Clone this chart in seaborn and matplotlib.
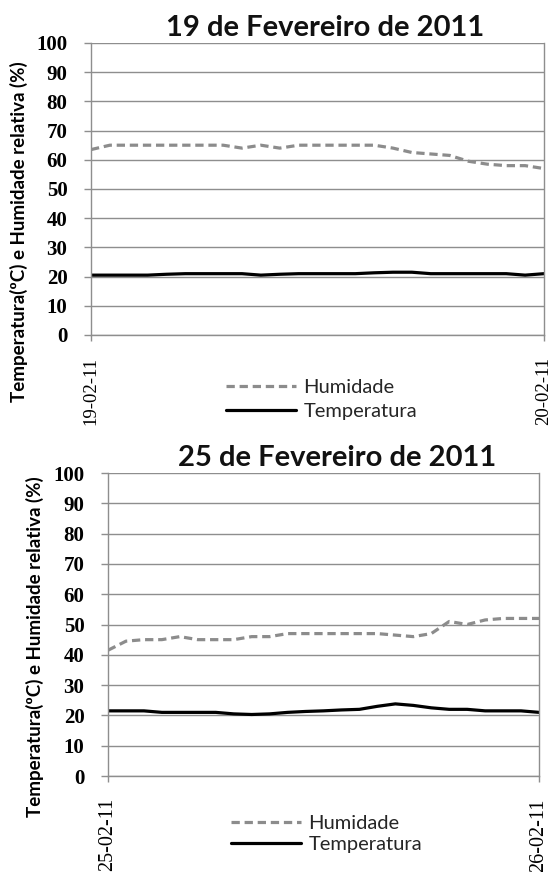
import numpy as np
import pandas as pd
import matplotlib
matplotlib.use("Agg")
import matplotlib.pyplot as plt
import seaborn as sns

# Hourly readings, 0h .. 24h
horas = list(range(25))

hum_19 = [63.5, 65, 65, 65, 65, 65, 65, 65, 64, 65, 64, 65, 65, 65, 65, 65,
          64, 62.5, 62, 61.5, 59.5, 58.5, 58, 58, 57]
temp_19 = [20.5, 20.5, 20.5, 20.5, 20.8, 21, 21, 21, 21, 20.5, 20.8, 21, 21,
           21, 21, 21.3, 21.5, 21.5, 21, 21, 21, 21, 21, 20.5, 21]

hum_25 = [41.5, 44.5, 45, 45, 46, 45, 45, 45, 46, 46, 47, 47, 47, 47, 47, 47,
          46.5, 46, 47, 51, 50, 51.5, 52, 52, 52]
temp_25 = [21.5, 21.5, 21.5, 21, 21, 21, 21, 20.5, 20.3, 20.5, 21, 21.3, 21.5,
           21.8, 22, 23, 23.8, 23.3, 22.5, 22, 22, 21.5, 21.5, 21.5, 21]

titulos = ["19 de Fevereiro de 2011", "25 de Fevereiro de 2011"]
datas = [["19-02-11", "20-02-11"], ["25-02-11", "26-02-11"]]
yticks = [0, 10, 20, 30, 40, 50, 60, 70, 80, 90, 100]
ylabel = "Temperatura(ºC) e Humidade relativa (%)"

sns.set_theme(style="white")
plt.rcParams["font.family"] = ["Lato", "DejaVu Sans"]

W, H = 554, 872
fig = plt.figure(figsize=(W / 100, H / 100), dpi=100)
fig.patch.set_facecolor("white")

GRID = "#8e8e8e"
HUM_C = "#8c8c8c"


def px_axes(left, right, top, bottom):
    return fig.add_axes([left / W, 1 - bottom / H, (right - left) / W, (bottom - top) / H])


layouts = [
    dict(box=(91, 544, 43, 335), title=(325, 28), ylab=(19, 232),
         leg=(226, 379), tick_fs=15, date_fs=13.5, spacing=0.35),
    dict(box=(108, 539, 473, 776), title=(337, 458), ylab=(35, 647),
         leg=(231, 815), tick_fs=15, date_fs=14.5, spacing=0.2),
]
series = [(hum_19, temp_19), (hum_25, temp_25)]

for k, (lay, (hum, temp)) in enumerate(zip(layouts, series)):
    ax = px_axes(*lay["box"])
    df = pd.DataFrame({"hora": horas, "Humidade": hum, "Temperatura": temp})
    sns.lineplot(data=df, x="hora", y="Humidade", ax=ax, color=HUM_C,
                 linewidth=2.3, linestyle=(0, (2.6, 1.5)), label="Humidade")
    sns.lineplot(data=df, x="hora", y="Temperatura", ax=ax, color="black",
                 linewidth=2.3, label="Temperatura")

    ax.set_xlim(0, 24)
    ax.set_ylim(0, 100)
    ax.set_yticks(yticks)
    ax.set_yticklabels([str(v) for v in yticks], family="Liberation Serif",
                       fontweight="bold", fontsize=lay["tick_fs"])
    ax.set_xticks([0, 24])
    ax.set_xticklabels(datas[k], family="Liberation Serif",
                       fontsize=lay["date_fs"], rotation=90)
    ax.set_xlabel("")
    ax.set_ylabel("")
    ax.yaxis.grid(True, color=GRID, linewidth=1.0)
    ax.set_axisbelow(True)
    for side in ["left", "right", "bottom"]:
        ax.spines[side].set_visible(True)
        ax.spines[side].set_color(GRID)
        ax.spines[side].set_linewidth(1.0)
    ax.spines["top"].set_visible(False)
    ax.tick_params(axis="y", direction="out", length=5, width=1.0,
                   color=GRID, pad=12, left=True, labelcolor="black")
    ax.tick_params(axis="x", direction="out", length=4, width=1.0,
                   color=GRID, pad=12, bottom=True, labelcolor="black")

    tx, ty = lay["title"]
    fig.text(tx / W, 1 - ty / H, titulos[k], ha="center", va="center",
             fontsize=21, fontweight="bold", color="#111111")
    lx, ly = lay["ylab"]
    fig.text(lx / W, 1 - ly / H, ylabel, ha="center", va="center",
             rotation=90, fontsize=13.5, fontweight="bold", color="black")

    gx, gy = lay["leg"]
    ax.legend(loc="upper left", bbox_to_anchor=(gx / W, 1 - gy / H),
              bbox_transform=fig.transFigure, frameon=False, fontsize=14.5,
              handlelength=3.5, handletextpad=0.35,
              labelspacing=lay["spacing"], borderpad=0.0, borderaxespad=0.0)

fig.savefig("out.png", dpi=100, facecolor="white")
